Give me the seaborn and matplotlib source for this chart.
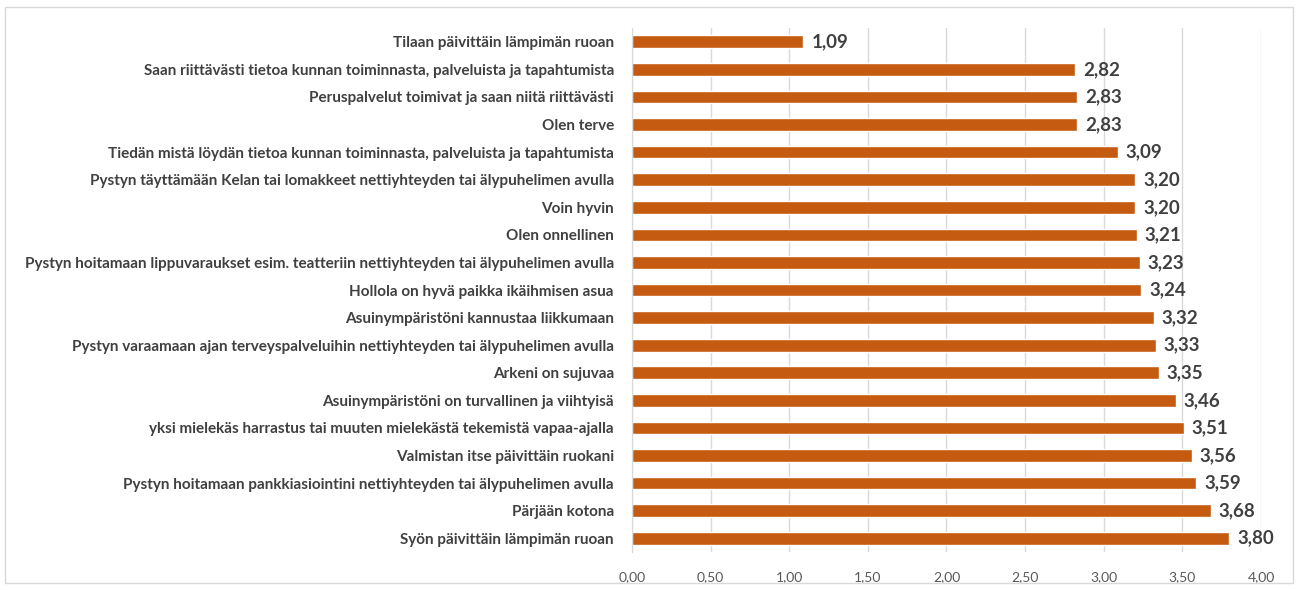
import matplotlib
matplotlib.use("Agg")
import matplotlib.pyplot as plt
import seaborn as sns
import pandas as pd

# statements, top to bottom as shown
statements = [
    "Tilaan päivittäin lämpimän ruoan",
    "Saan riittävästi tietoa kunnan toiminnasta, palveluista ja tapahtumista",
    "Peruspalvelut toimivat ja saan niitä riittävästi",
    "Olen terve",
    "Tiedän mistä löydän tietoa kunnan toiminnasta, palveluista ja tapahtumista",
    "Pystyn täyttämään Kelan tai lomakkeet nettiyhteyden tai älypuhelimen avulla",
    "Voin hyvin",
    "Olen onnellinen",
    "Pystyn hoitamaan lippuvaraukset esim. teatteriin nettiyhteyden tai älypuhelimen avulla",
    "Hollola on hyvä paikka ikäihmisen asua",
    "Asuinympäristöni kannustaa liikkumaan",
    "Pystyn varaamaan ajan terveyspalveluihin nettiyhteyden tai älypuhelimen avulla",
    "Arkeni on sujuvaa",
    "Asuinympäristöni on turvallinen ja viihtyisä",
    "yksi mielekäs harrastus tai muuten mielekästä tekemistä vapaa-ajalla",
    "Valmistan itse päivittäin ruokani",
    "Pystyn hoitamaan pankkiasiointini nettiyhteyden tai älypuhelimen avulla",
    "Pärjään kotona",
    "Syön päivittäin lämpimän ruoan",
]
averages = [1.09, 2.82, 2.83, 2.83, 3.09, 3.20, 3.20, 3.21, 3.23, 3.24,
            3.32, 3.33, 3.35, 3.46, 3.51, 3.56, 3.59, 3.68, 3.80]

x_ticks = [0, 0.5, 1, 1.5, 2, 2.5, 3, 3.5, 4]

df = pd.DataFrame({"statement": statements, "avg": averages})

sns.set_style("white")
plt.rcParams["font.family"] = ["Lato", "DejaVu Sans"]

fig = plt.figure(figsize=(12.99, 5.90), dpi=100)
ax = fig.add_axes([0.4865, 0.0644, 0.4842, 0.8881])

sns.barplot(data=df, x="avg", y="statement", color="#C55A11", width=0.46,
            saturation=1, ax=ax, orient="h")

ax.set_xlim(0, 4)
ax.set_xticks(x_ticks)
ax.set_xticklabels([f"{t:.2f}".replace(".", ",") for t in x_ticks],
                   color="#595959", fontsize=10)
ax.tick_params(axis="x", length=0, pad=14)
ax.tick_params(axis="y", length=0, pad=13)
for lbl in ax.get_yticklabels():
    lbl.set_fontweight("bold")
    lbl.set_color("#404040")
    lbl.set_fontsize(11)
ax.set_xlabel("")
ax.set_ylabel("")

ax.grid(axis="x", color="#D9D9D9", linewidth=1)
ax.set_axisbelow(True)
for side in ["top", "right", "bottom"]:
    ax.spines[side].set_visible(False)
ax.spines["left"].set_color("#D9D9D9")

for i, v in enumerate(averages):
    ax.text(v + 0.05, i, f"{v:.2f}".replace(".", ","), va="center", ha="left",
            fontsize=13.5, fontweight="bold", color="#404040")

# outer chart border
fig.patches.append(plt.Rectangle((0.004, 0.012), 0.991, 0.976, transform=fig.transFigure,
                                 fill=False, edgecolor="#D9D9D9", linewidth=1))

fig.savefig("out.png", dpi=100)
